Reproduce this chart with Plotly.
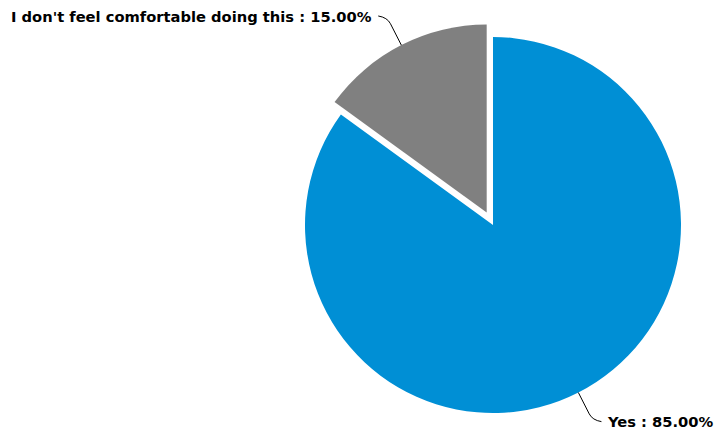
import math
import plotly.graph_objects as go

# Survey answers and their shares (percent)
labels = ["Yes", "I don't feel comfortable doing this"]
values = [85.0, 15.0]
colors = ["#008fd5", "#808080"]
pulls = [0.0, 0.074]

W, H = 715, 434

# Pie placement in pixels (centre and radius of the unpulled disc)
cx, cy, r = 493, 225, 188
max_pull = max(pulls)
half = r * (1 + max_pull)

def px_to_paper(x, y):
    return x / W, 1 - y / H

dom_x = [(cx - half) / W, (cx + half) / W]
dom_y = [1 - (cy + half) / H, 1 - (cy - half) / H]

fig = go.Figure(
    go.Pie(
        labels=labels,
        values=values,
        marker=dict(colors=colors, line=dict(color="white", width=0)),
        pull=pulls,
        sort=False,
        direction="clockwise",
        rotation=0,
        textinfo="none",
        hoverinfo="label+percent",
        domain=dict(x=dom_x, y=dom_y),
        showlegend=False,
    )
)

# Outside labels with curved leader lines, placed at each slice's mid-angle
total = sum(values)
start = 0.0
shapes, annotations = [], []
for lab, val, pull in zip(labels, values, pulls):
    frac = val / total
    mid = (start + frac / 2) * 2 * math.pi
    start += frac
    dx, dy = math.sin(mid), -math.cos(mid)
    ox, oy = cx + dx * r * pull, cy + dy * r * pull
    p0 = (ox + dx * r, oy + dy * r)
    ext = 31
    p1 = (ox + dx * (r + ext), oy + dy * (r + ext))
    side = 1 if dx >= 0 else -1
    vsign = 1 if dy >= 0 else -1
    p2 = (p1[0] + side * 9, p1[1] + vsign * 1.5)
    bend = (p1[0] - dx * 7, p1[1] - dy * 7)
    a = px_to_paper(*p0)
    b = px_to_paper(*bend)
    c = px_to_paper(*p1)
    d = px_to_paper(*p2)
    shapes.append(dict(
        type="path", xref="paper", yref="paper",
        path=f"M {a[0]},{a[1]} L {b[0]},{b[1]} Q {c[0]},{c[1]} {d[0]},{d[1]}",
        line=dict(color="#000000", width=1),
    ))
    tx, ty = px_to_paper(p2[0] + side * 4, p2[1] - vsign * 0.5)
    annotations.append(dict(
        x=tx, y=ty, xref="paper", yref="paper",
        text=f"<b>{lab} : {val:.2f}%</b>",
        showarrow=False,
        xanchor="left" if side > 0 else "right",
        yanchor="middle",
        font=dict(family="Verdana, DejaVu Sans", size=14.7, color="#000000"),
    ))

fig.update_layout(
    width=W, height=H,
    margin=dict(l=0, r=0, t=0, b=0),
    paper_bgcolor="white",
    plot_bgcolor="white",
    shapes=shapes,
    annotations=annotations,
)

fig.write_html("out.html")
